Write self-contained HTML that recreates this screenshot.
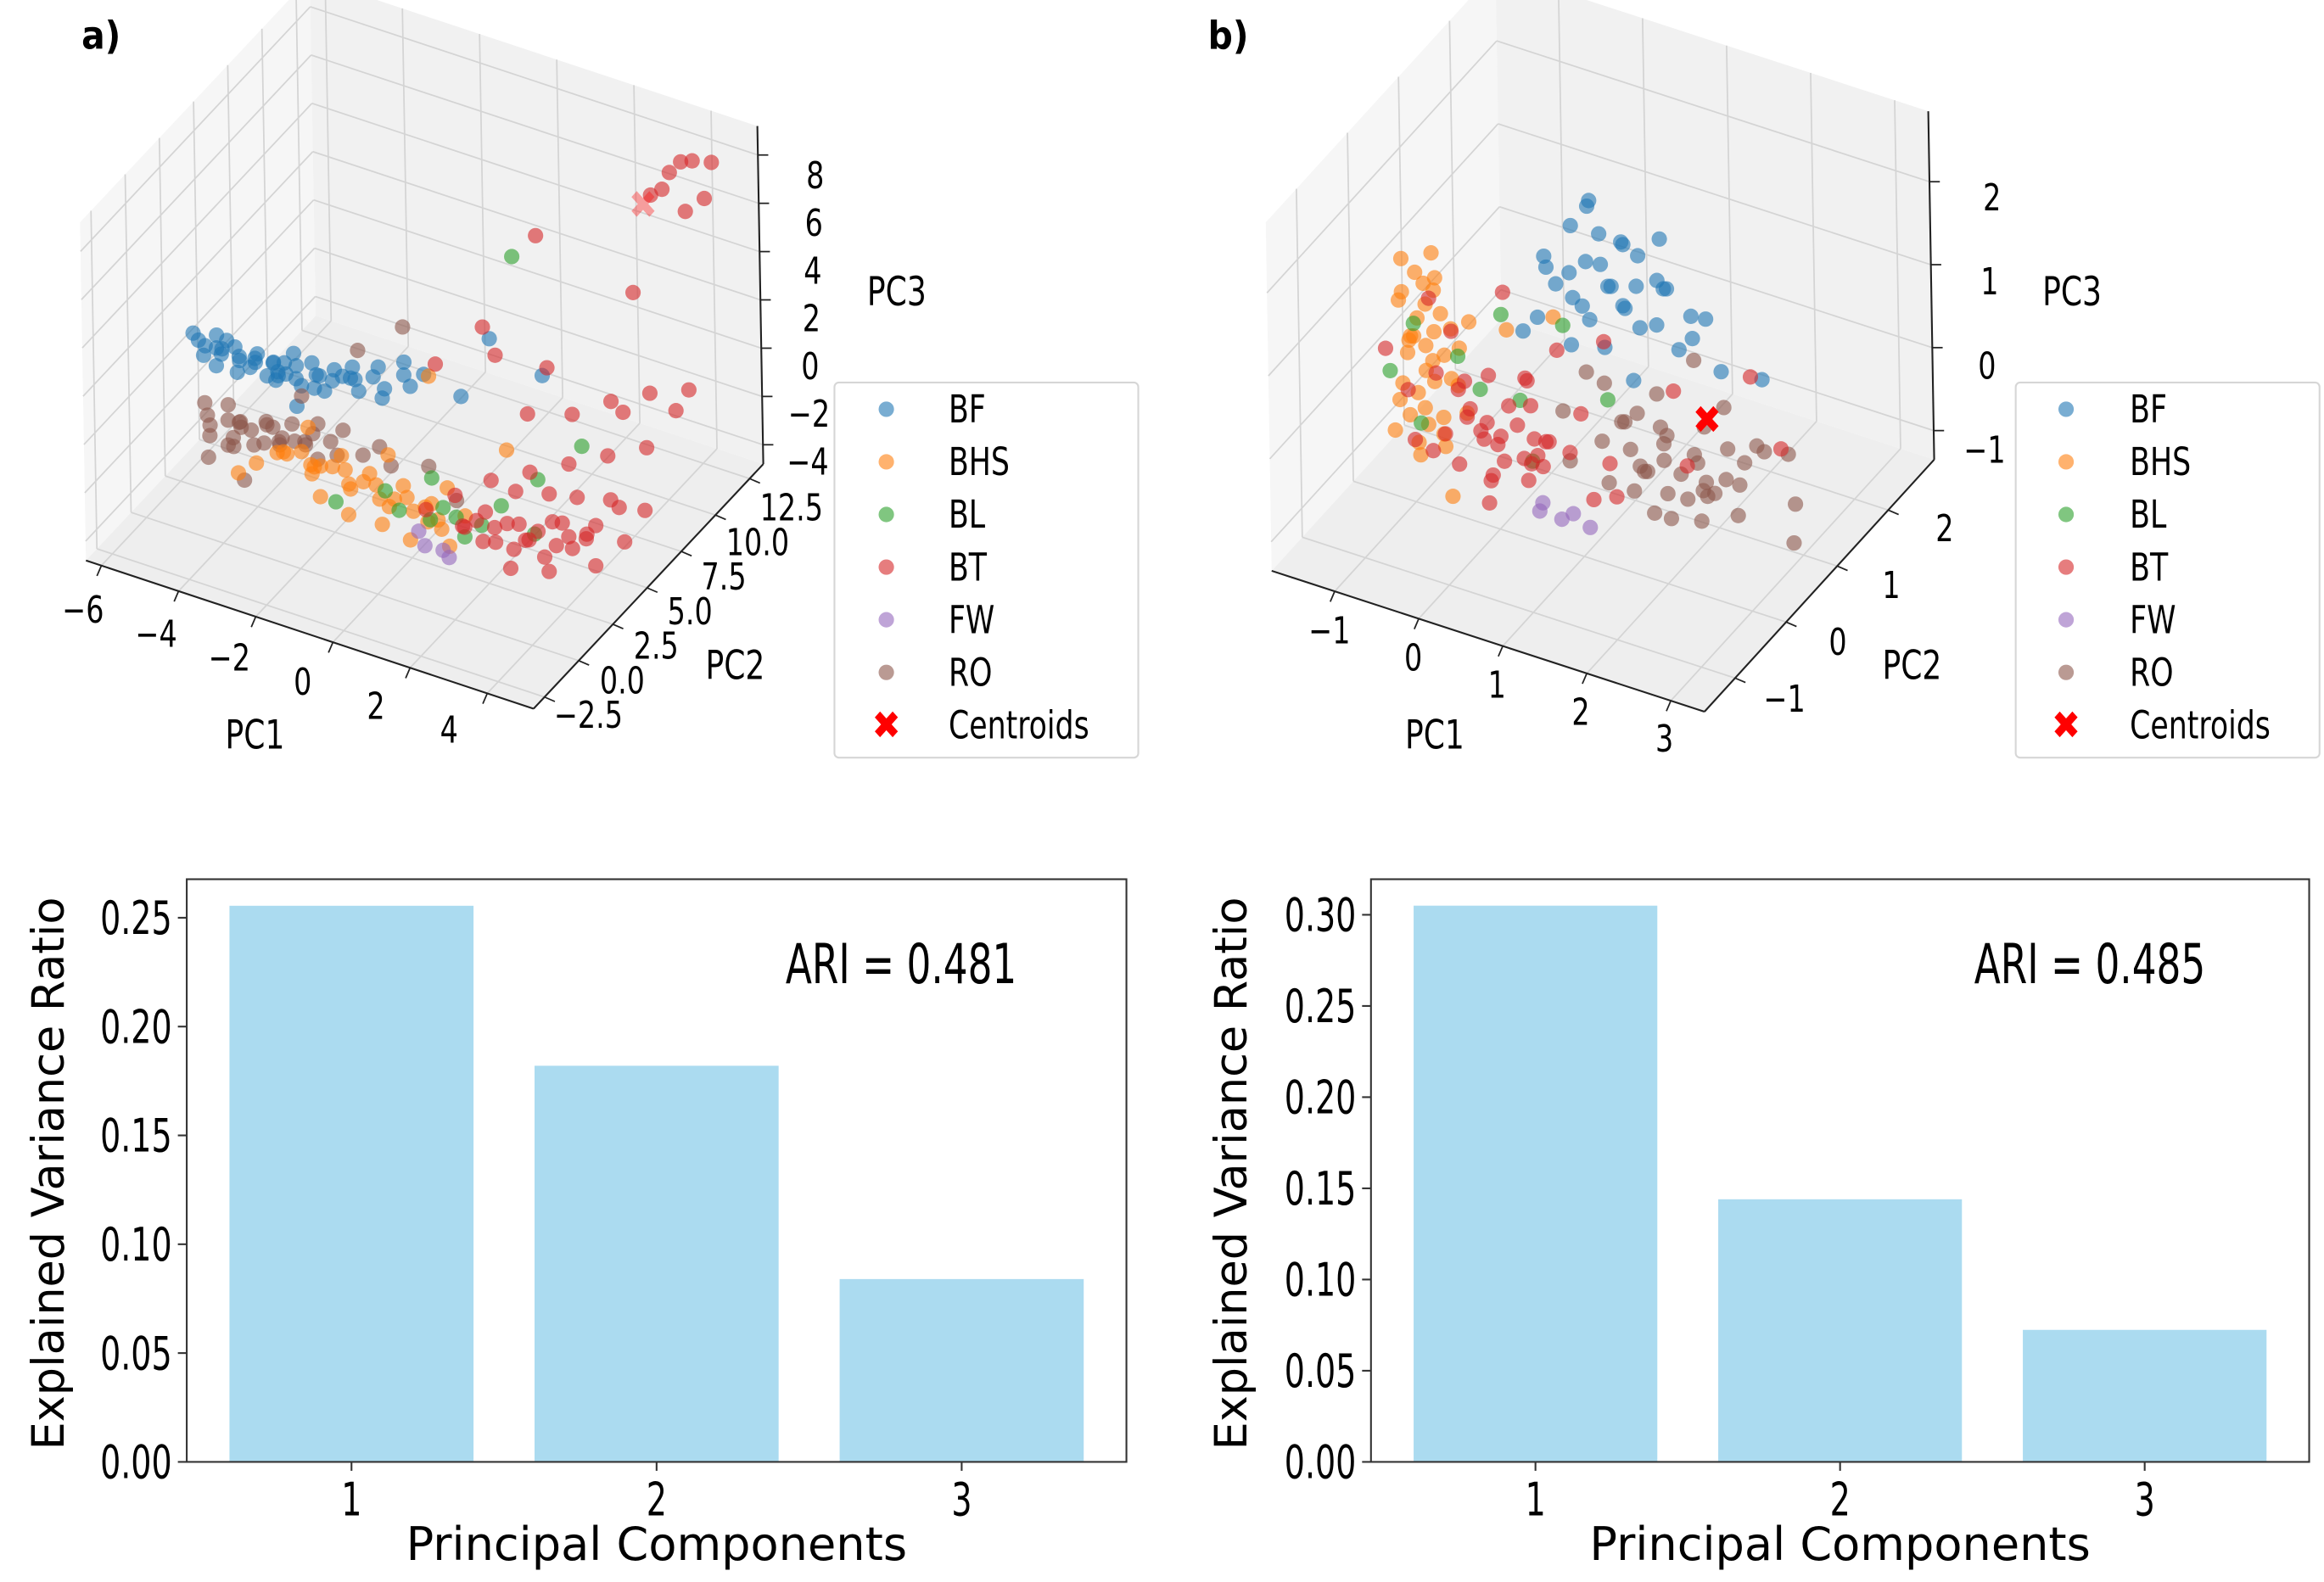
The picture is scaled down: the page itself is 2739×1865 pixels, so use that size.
<!DOCTYPE html>
<html><head><meta charset="utf-8"><style>
html,body{margin:0;padding:0;background:#fff;}
svg{display:block;}
text{font-family:"DejaVu Sans Condensed","DejaVu Sans","Liberation Sans",sans-serif;fill:#000;}
</style></head><body>
<svg id="fig" width="2739" height="1865" viewBox="0 0 1568 1067" preserveAspectRatio="none" xmlns="http://www.w3.org/2000/svg">
<rect x="0" y="0" width="1568" height="1067" fill="#fff"/>
<text x="55" y="33" font-size="26" font-weight="bold">a)</text>
<text x="815" y="33" font-size="26" font-weight="bold">b)</text>
</svg>
<script>
// ---------- Data ----------
const classNames = ["BF","BHS","BL","BT","FW","RO"];
const classColors = ["#1f77b4","#ff7f0e","#2ca02c","#d62728","#9467bd","#8c564b"];
const pcCategories = [1,2,3];
const varianceA = [0.2555,0.182,0.084];
const varianceB = [0.305,0.144,0.0724];
const yTicksA = [0,0.05,0.10,0.15,0.20,0.25];
const yTicksB = [0,0.05,0.10,0.15,0.20,0.25,0.30];
const ariA = "ARI = 0.481";
const ariB = "ARI = 0.485";

// Panel a 3D scatter [PC1,PC2,PC3]
const aBF = [[-5.8,3.4,0.6],[-5.6,3.2,0.2],[-5.4,3.6,0.9],[-5.2,3.0,0.1],[-5.0,3.8,0.5],[-4.8,3.4,-0.2],[-4.6,3.0,0.8],[-4.4,3.6,0.3],[-4.2,3.2,1.0],[-4.0,3.8,0.4],[-3.8,3.4,0.0],[-3.6,3.0,0.7],[-3.4,3.6,1.2],[-3.2,3.2,0.5],[-3.0,3.8,0.9],[-2.8,3.4,0.2],[-2.6,3.0,1.1],[-2.4,3.6,0.6],[-2.2,3.2,1.4],[-2.0,3.8,0.8],[-1.8,3.4,1.6],[-1.5,3.0,1.0],[-1.2,3.6,1.8],[-0.9,3.2,1.3],[-0.6,3.8,2.2],[-0.3,3.4,1.6],[0.2,3.0,2.6],[-5.5,4.2,-0.3],[-4.9,2.6,1.2],[-3.9,4.4,-0.4],[-2.9,2.4,0.0],[0.8,4.0,1.4],[1.2,5.0,3.4],[2.2,6.0,1.8],
 [-5.7,3.6,0.3],[-5.3,3.3,0.6],[-5.1,3.5,0.9],[-4.7,3.3,0.4],[-4.5,3.5,0.1],[-4.3,3.3,0.7],[-3.9,3.5,0.6],[-3.7,3.3,0.3],[-3.3,3.5,0.8],[-3.1,3.3,0.2],[-2.7,3.5,0.7],[-2.5,3.3,0.3],[-2.1,3.5,1.0],[-1.7,3.3,1.2],[-1.3,3.5,1.4],[-1.0,3.3,0.8],[-0.5,3.5,1.9],[-5.9,3.3,0.9],[-4.1,3.6,-0.1],[-3.5,3.2,1.0]];
const aRO = [[-5.6,3.4,-2.4],[-5.4,3.0,-2.9],[-5.2,3.8,-2.0],[-5.0,3.2,-3.2],[-4.8,3.6,-2.6],[-4.6,3.0,-1.9],[-4.4,3.4,-3.0],[-4.2,3.8,-2.3],[-4.0,3.2,-1.7],[-3.8,3.6,-2.8],[-3.6,3.0,-2.2],[-3.4,3.4,-1.6],[-3.2,3.8,-2.6],[-3.0,3.2,-2.0],[-2.8,3.6,-1.4],[-2.6,3.0,-2.4],[-2.4,3.4,-1.8],[-5.3,2.6,-3.5],[-4.3,2.4,-3.8],[-3.5,4.4,-1.1],[-2.0,3.2,-1.0],[-1.2,3.6,-1.5],[0.0,3.8,-1.8],[-1.6,6.5,1.5],[-2.6,6.0,0.3],[1.0,3.0,-2.2],
 [-5.5,3.3,-2.7],[-5.1,3.5,-2.4],[-4.9,3.3,-2.9],[-4.5,3.5,-2.5],[-4.1,3.3,-2.7],[-3.7,3.5,-2.4],[-3.3,3.3,-2.2],[-2.9,3.5,-1.8],[-5.7,3.5,-2.0],[-4.7,3.2,-2.1],[-3.9,3.4,-2.0],[-5.0,3.6,-3.5],[-2.2,3.3,-2.2],[-1.6,3.5,-2.0],[-0.8,3.3,-1.9]];
const aBHS = [[-4.2,3.0,-3.4],[-3.8,3.4,-3.0],[-3.4,3.0,-2.6],[-3.0,3.6,-3.2],[-2.6,3.2,-2.8],[-2.2,3.6,-2.4],[-1.8,3.0,-3.0],[-1.4,3.4,-2.6],[-1.0,3.0,-3.2],[-0.6,3.6,-2.8],[-0.2,3.2,-3.4],[0.2,3.4,-3.0],[0.6,3.0,-3.6],[1.0,3.6,-3.2],[-2.4,2.6,-3.6],[-1.6,2.4,-3.8],[-0.8,2.6,-3.9],[0.0,2.4,-4.0],[-3.2,4.0,-2.0],[-1.2,4.2,-2.2],[0.4,4.0,-2.6],[-4.6,2.8,-3.9],[1.6,5.0,-1.0],[-0.4,5.0,1.0],[0.8,3.0,-4.2],
 [-3.6,3.3,-2.8],[-3.2,3.5,-2.7],[-2.8,3.3,-3.0],[-2.4,3.5,-2.9],[-2.0,3.3,-2.7],[-1.6,3.5,-3.1],[-1.2,3.3,-2.9],[-0.8,3.5,-3.4],[-0.4,3.3,-3.0],[0.0,3.5,-3.3],[0.4,3.3,-3.5],[-1.9,3.4,-3.5],[-0.9,3.4,-3.7],[0.1,3.4,-3.8],[-2.9,3.4,-3.4]];
const aBL = [[-0.5,3.0,-3.4],[0.5,3.4,-3.0],[1.2,3.0,-3.6],[1.8,4.0,-2.6],[2.4,5.0,-1.8],[0.0,4.0,-2.4],[2.8,3.6,-3.0],[1.17,6.8,5.7],[-2.0,2.6,-3.6],[3.2,6.0,-0.6],[0.2,3.3,-3.6],[0.8,3.5,-3.3],[1.5,3.4,-3.2],[-1.0,3.4,-3.1]];
const aBT = [[1.2,3.0,-3.2],[1.6,3.4,-2.6],[2.0,3.0,-3.4],[2.4,3.6,-2.8],[2.8,3.2,-3.0],[3.2,3.8,-2.4],[3.6,3.4,-2.0],[4.0,3.0,-2.6],[4.4,3.6,-1.8],[4.8,4.2,-1.2],[1.4,4.4,-2.0],[2.2,5.0,-1.6],[3.0,5.6,-1.2],[3.8,6.2,-0.8],[4.6,6.8,-0.4],[2.6,7.0,-0.2],[3.4,7.6,0.4],[4.2,8.2,0.8],[5.0,8.8,1.0],[1.8,6.0,0.0],[0.6,4.0,-2.8],[0.2,3.0,-3.0],[2.6,2.4,-3.8],[3.6,2.4,-3.4],[4.6,3.0,-3.0],[5.0,5.5,-2.0],[4.4,9.5,-0.6],[3.2,9.0,-1.0],[0.8,6.5,1.6],[0.3,7.0,2.2],[-0.4,5.5,1.2],[1.6,8.0,0.6],[3.3,11.8,6.6],[4.6,11.8,8.4],[3.8,11.8,8.0],[4.1,11.8,8.2],[3.5,11.8,7.4],[4.4,11.8,6.8],[3.0,11.8,6.2],[2.5,11.8,1.9],[1.8,6.8,6.9],[3.9,11.8,6.0],
 [1.4,3.3,-3.0],[1.8,3.5,-3.2],[2.2,3.3,-2.7],[2.6,3.5,-3.3],[3.0,3.3,-2.6],[3.4,3.5,-3.1],[3.8,3.3,-2.4],[4.2,3.5,-2.2],[2.0,4.5,-2.2],[2.8,4.7,-2.0],[3.6,4.5,-1.6],[4.4,4.7,-1.4],[1.0,3.4,-3.5],[1.6,3.2,-3.7],[2.4,3.2,-3.6],[3.2,3.2,-3.5],[4.0,4.0,-2.8],[5.0,4.0,-2.4]];
const aFW = [[0.3,2.6,-4.2],[0.7,2.8,-4.3],[1.0,2.4,-4.2],[0.0,3.0,-4.0]];
const aCentroids = [[2.8,11.8,5.7]];
const aCentroidAlpha = 0.35;
const aXTicks = [-6,-4,-2,0,2,4];
const aYTicks = [-2.5,0.0,2.5,5.0,7.5,10.0,12.5];
const aZTicks = [-4,-2,0,2,4,6,8];

// Panel b 3D scatter
const bBF = [[0.2,0.6,1.6],[0.4,0.8,1.9],[0.6,0.5,1.3],[0.8,0.7,2.0],[1.0,0.6,1.5],[1.2,0.8,1.8],[1.4,0.5,1.2],[1.6,0.7,1.6],[1.8,0.6,1.0],[2.0,0.8,1.3],[0.5,1.0,2.1],[0.9,1.0,1.7],[1.3,1.0,1.4],[0.3,0.3,1.1],[0.7,0.3,0.9],[1.1,0.3,1.0],[1.5,0.2,0.8],[0.6,0.8,2.2],[1.0,0.4,1.9],[1.7,1.0,1.1],[2.3,0.6,0.9],[0.1,0.8,1.3],[1.4,0.9,2.0],[0.9,0.2,1.5],[2.6,0.9,0.7],[0.0,0.5,0.7],
 [0.5,0.6,1.5],[0.7,0.6,1.7],[0.9,0.7,1.4],[1.1,0.7,1.2],[1.3,0.6,1.6],[0.8,0.5,1.1],[1.2,0.5,1.4],[1.6,0.5,1.3],[0.4,0.5,1.4],[1.0,0.8,1.9],[1.5,0.8,1.5],[1.9,0.7,1.1]];
const bBHS = [[-0.95,-0.3,1.8],[-0.75,-0.2,1.5],[-1.05,-0.2,1.2],[-0.85,-0.3,0.9],[-0.65,-0.2,0.6],[-0.95,-0.3,0.3],[-0.75,-0.2,0.0],[-1.05,-0.3,-0.3],[-0.55,-0.2,1.2],[-0.45,-0.3,0.8],[-0.35,-0.2,0.4],[-0.65,-0.3,-0.1],[-0.85,-0.2,1.6],[-0.55,-0.3,1.7],[-0.95,-0.2,0.6],[-0.75,-0.3,-0.5],[-0.25,-0.2,0.1],[-0.45,-0.3,-0.3],[-1.05,-0.2,0.0],[-0.15,-0.3,1.3],[0.05,0.1,1.0],[-0.25,-0.5,-0.7],[-0.75,-0.4,1.0],[-0.65,-0.2,1.9],[-0.95,-0.3,1.4],[0.3,0.6,0.9],
 [-0.8,-0.25,1.1],[-0.7,-0.25,0.8],[-0.6,-0.25,0.4],[-0.8,-0.25,0.2],[-0.5,-0.25,0.0],[-0.7,-0.25,1.3],[-0.6,-0.25,1.0],[-0.4,-0.25,0.5],[-0.9,-0.25,0.8],[-0.5,-0.25,-0.2],[-0.3,-0.25,0.9],[-0.7,-0.25,0.5],[-0.9,-0.25,-0.1],[-0.6,-0.25,1.5],[-0.4,-0.25,1.1],[-0.8,-0.25,-0.4]];
const bRO = [[0.4,0.6,-0.2],[0.8,0.7,-0.5],[1.2,0.5,0.0],[1.6,0.6,-0.4],[2.0,0.7,-0.7],[2.4,0.5,-0.3],[2.8,0.6,0.1],[3.1,0.7,-0.5],[0.6,0.4,-0.6],[1.0,0.5,-0.8],[1.4,0.8,0.2],[1.8,0.4,-0.9],[2.2,0.8,0.3],[2.6,0.4,-0.6],[1.1,0.9,-0.2],[1.5,0.3,-0.3],[1.9,0.9,-0.1],[2.3,0.3,-0.4],[0.9,0.6,0.3],[1.3,0.7,-0.7],[1.7,0.5,0.0],[2.1,0.6,-0.5],[2.5,0.7,-0.2],[2.9,0.9,-0.1],[3.2,0.5,-0.8],[0.5,0.9,0.1],[1.6,1.2,0.4],[2.4,1.1,-0.3],
 [1.2,0.6,-0.4],[1.4,0.6,-0.6],[1.6,0.6,-0.2],[1.8,0.6,-0.5],[2.0,0.6,-0.3],[2.2,0.6,-0.6],[1.3,0.5,-0.8],[1.7,0.5,-0.7],[2.1,0.5,-0.9],[1.5,0.7,-0.1],[1.9,0.7,-0.3],[2.3,0.7,-0.1],[1.1,0.6,-0.1],[2.5,0.6,-0.4],[1.6,0.4,-0.9],[2.0,0.4,-0.6]];
const bBT = [[-1.2,0.2,-0.2],[-0.8,0.1,0.2],[-0.4,0.3,-0.5],[0.0,0.2,0.0],[0.4,0.1,-0.4],[0.8,0.3,0.1],[1.2,0.2,-0.3],[-1.0,0.0,-0.6],[-0.6,0.2,-0.9],[-0.2,0.1,-0.2],[0.2,0.3,-0.7],[0.6,0.0,-0.1],[1.0,0.2,-0.8],[-0.8,0.4,0.5],[-0.4,0.0,0.3],[0.2,0.2,0.4],[0.6,0.4,-0.5],[-1.4,0.1,0.3],[0.0,-0.2,-0.9],[0.4,0.5,0.6],[1.6,0.8,0.3],[2.4,1.0,0.6],[3.0,0.6,0.2],[2.0,0.4,-0.2],[-0.3,0.6,1.0],[0.1,0.4,-1.0],[-1.0,0.3,0.9],[1.4,0.0,-0.5],[-0.6,-0.3,-0.4],[0.9,0.6,0.8],
 [-0.5,0.2,-0.3],[-0.3,0.2,-0.5],[-0.1,0.2,-0.4],[0.1,0.2,-0.2],[0.3,0.2,-0.3],[-0.4,0.1,-0.1],[-0.2,0.3,-0.6],[0.0,0.1,-0.6],[0.2,0.3,0.0],[-0.6,0.2,0.0],[0.4,0.2,-0.6],[-0.1,0.0,-0.8],[0.1,0.4,0.2],[-0.3,0.3,0.2],[0.5,0.1,-0.2],[-0.7,0.1,-0.5],[-0.2,0.2,-0.9],[0.3,0.0,-0.4]];
const bBL = [[-1.0,0.0,0.8],[-0.6,0.2,0.4],[-0.2,0.4,0.9],[0.2,0.1,0.2],[0.6,0.3,1.1],[-0.8,-0.2,-0.2],[0.4,0.0,-0.4],[-0.4,0.3,0.0],[1.0,0.5,0.2],[-1.1,-0.3,0.4]];
const bFW = [[0.6,-0.2,-0.8],[0.8,-0.1,-0.9],[1.0,-0.2,-0.7],[0.7,-0.3,-0.6],[1.2,-0.2,-0.8]];
const bCentroids = [[2.09,0.65,0.22]];
const bCentroidAlpha = 1.0;
const bXTicks = [-1,0,1,2,3];
const bYTicks = [-1,0,1,2];
const bZTicks = [-1,0,1,2];

// ---------- Helpers ----------
const NS = "http://www.w3.org/2000/svg";
const svg = document.getElementById("fig");
function mk(tag, attrs, parent){
  const e = document.createElementNS(NS, tag);
  for (const k in attrs) e.setAttribute(k, attrs[k]);
  (parent||svg).appendChild(e);
  return e;
}
function txt(parent, x, y, str, size, sx, anchor){
  const t = mk("text", {x:0, y:0, "font-size":size, "text-anchor":anchor||"middle", transform:`translate(${x},${y}) scale(${sx},1)`}, parent);
  t.textContent = str;
  return t;
}
function fmt(v, d){ const s = v.toFixed(d); return s.startsWith("-") ? "\u2212"+s.slice(1) : s; }

// ---------- 3D panel ----------
function panel3D(cfg){
  const g = mk("g", {});
  
  
  const P = (x,y,z) => {
    const nx=(x-cfg.xr[0])/(cfg.xr[1]-cfg.xr[0]);
    const ny=(y-cfg.yr[0])/(cfg.yr[1]-cfg.yr[0]);
    const nz=(z-cfg.zr[0])/(cfg.zr[1]-cfg.zr[0]);
    return [cfg.O[0]+nx*cfg.ex[0]+ny*cfg.ey[0]+nz*cfg.ez[0], cfg.O[1]+nx*cfg.ex[1]+ny*cfg.ey[1]+nz*cfg.ez[1]];
  };
  const [x0,x1]=cfg.xr,[y0,y1]=cfg.yr,[z0,z1]=cfg.zr;
  const poly=(pts,fill,nm)=>{
    const p = mk("polygon",{points:pts.map(q=>q.join(",")).join(" "),fill:fill,stroke:"none"},g);
    
    
  };
  poly([P(x0,y0,z0),P(x0,y1,z0),P(x0,y1,z1),P(x0,y0,z1)],"#f6f6f6","left-pane");
  poly([P(x0,y1,z0),P(x1,y1,z0),P(x1,y1,z1),P(x0,y1,z1)],"#f1f1f1","back-pane");
  poly([P(x0,y0,z0),P(x1,y0,z0),P(x1,y1,z0),P(x0,y1,z0)],"#eeeeee","floor-pane");
  const line=(a,b,col,w,nm)=>{
    const l = mk("line",{x1:a[0],y1:a[1],x2:b[0],y2:b[1],stroke:col,"stroke-width":w},g);
    
    
  };
  const gc="#d4d4d4";
  cfg.xt.forEach(v=>{ line(P(v,y0,z0),P(v,y1,z0),gc,1,"grid-x"); line(P(v,y1,z0),P(v,y1,z1),gc,1,"grid-x"); });
  cfg.yt.forEach(v=>{ line(P(x0,v,z0),P(x1,v,z0),gc,1,"grid-y"); line(P(x0,v,z0),P(x0,v,z1),gc,1,"grid-y"); });
  cfg.zt.forEach(v=>{ line(P(x0,y0,v),P(x0,y1,v),gc,1,"grid-z"); line(P(x0,y1,v),P(x1,y1,v),gc,1,"grid-z"); });
  line(P(x0,y0,z0),P(x1,y0,z0),"#222",1.2,"pc1-axis-line");
  line(P(x1,y0,z0),P(x1,y1,z0),"#222",1.2,"pc2-axis-line");
  line(P(x1,y1,z0),P(x1,y1,z1),"#222",1.2,"pc3-axis-line");
  cfg.xt.forEach((v,i)=>{
    const p=P(v,y0,z0); line(p,[p[0]-3,p[1]+7],"#222",1,"pc1-tick");
    const f=i/(cfg.xt.length-1);
    const t=txt(g, cfg.xl[0][0]+f*(cfg.xl[1][0]-cfg.xl[0][0]), cfg.xl[0][1]+f*(cfg.xl[1][1]-cfg.xl[0][1])+9, fmt(v,cfg.xd), 25, 0.85);
    
    
  });
  cfg.yt.forEach((v,i)=>{
    const p=P(x1,v,z0); line(p,[p[0]+7,p[1]+3],"#222",1,"pc2-tick");
    const f=i/(cfg.yt.length-1);
    const t=txt(g, cfg.yl[0][0]+f*(cfg.yl[1][0]-cfg.yl[0][0]), cfg.yl[0][1]+f*(cfg.yl[1][1]-cfg.yl[0][1])+9, fmt(v,cfg.yd), 25, 0.85);
    
    
  });
  cfg.zt.forEach((v,i)=>{
    const p=P(x1,y1,v); line(p,[p[0]+7,p[1]],"#222",1,"pc3-tick");
    const f=i/(cfg.zt.length-1);
    const t=txt(g, cfg.zl[0][0]+f*(cfg.zl[1][0]-cfg.zl[0][0]), cfg.zl[0][1]+f*(cfg.zl[1][1]-cfg.zl[0][1])+9, fmt(v,0), 25, 0.85);
    
    
  });
  [["PC1",cfg.lab[0],"pc1-axis-title"],["PC2",cfg.lab[1],"pc2-axis-title"],["PC3",cfg.lab[2],"pc3-axis-title"]].forEach(a=>{
    const t=txt(g, a[1][0], a[1][1]+10, a[0], 27, 0.85);
    
    
  });
  cfg.series.forEach(s=>{
    const sg = mk("g",{},g);
    
    
    s.data.forEach(d=>{
      const p=P(d[0],d[1],d[2]);
      const c=mk("circle",{cx:p[0],cy:p[1],r:5.2,fill:s.color,"fill-opacity":0.6},sg);
      
      
    });
  });
  cfg.centroids.forEach(d=>{
    const p=P(d[0],d[1],d[2]);
    const c=mk("text",{x:p[0],y:p[1]+9,"font-size":26,"font-weight":"bold","text-anchor":"middle","fill-opacity":cfg.calpha},g);
    c.textContent="\u2716";
    c.style.fill="#ff0000";
    
    
  });
  const L=cfg.legend;
  const lg=mk("g",{},g);
  
  
  const box=mk("rect",{x:L.x,y:L.y,width:L.w,height:L.h,rx:3,fill:"#fff","fill-opacity":0.85,stroke:"#d6d6d6","stroke-width":1.2},lg);
  
  
  const labels=classNames.concat(["Centroids"]);
  labels.forEach((lbl,i)=>{
    const y=L.y+18+i*35.5;
    if(i<6){
      const c=mk("circle",{cx:L.mx,cy:y,r:5.2,fill:classColors[i],"fill-opacity":0.6},lg);
      
      
    } else {
      const c=mk("text",{x:L.mx,y:y+9,"font-size":26,"text-anchor":"middle"},lg);
      c.textContent="\u2716"; c.style.fill="#ff0000";
      
      
    }
    const t=txt(lg, L.tx, y+9, lbl, 26, 0.85, "start");
    
    
  });
}

panel3D({
  name:"pca-3d-scatter-a",
  O:[58,378], ex:[302,100], ey:[155,-165], ez:[-4,-228],
  xr:[-6.4,5.2], yr:[-3.3,13.5], zr:[-4.8,9.2],
  xt:aXTicks, yt:aYTicks, zt:aZTicks, xd:0, yd:1,
  xl:[[56,411],[303,492]], yl:[[397,482],[534,342]], zl:[[545,311],[550,118]],
  lab:[[172,495],[496,448],[605,196]],
  series:[{label:"BF",color:classColors[0],data:aBF},{label:"RO",color:classColors[5],data:aRO},{label:"BHS",color:classColors[1],data:aBHS},{label:"BL",color:classColors[2],data:aBL},{label:"BT",color:classColors[3],data:aBT},{label:"FW",color:classColors[4],data:aFW}],
  centroids:aCentroids, calpha:aCentroidAlpha,
  legend:{x:563,y:258,w:205,h:253,mx:598,tx:640}
});
panel3D({
  name:"pca-3d-scatter-b",
  O:[858,385], ex:[292,95], ey:[155,-170], ez:[-4,-235],
  xr:[-1.75,3.4], yr:[-1.6,2.9], zr:[-1.35,2.85],
  xt:bXTicks, yt:bYTicks, zt:bZTicks, xd:0, yd:0,
  xl:[[897,425],[1123,498]], yl:[[1204,471],[1312,356]], zl:[[1339,303],[1344,133]],
  lab:[[968,495],[1290,448],[1398,196]],
  series:[{label:"BF",color:classColors[0],data:bBF},{label:"BHS",color:classColors[1],data:bBHS},{label:"RO",color:classColors[5],data:bRO},{label:"BL",color:classColors[2],data:bBL},{label:"BT",color:classColors[3],data:bBT},{label:"FW",color:classColors[4],data:bFW}],
  centroids:bCentroids, calpha:bCentroidAlpha,
  legend:{x:1360,y:258,w:205,h:253,mx:1394,tx:1437}
});

// ---------- Bar charts ----------
function barChart(cfg){
  const g=mk("g",{});
  
  
  const {L,R,T,B,ymax}=cfg;
  const xmin=0.46, xmax=3.54;
  const X=v=>L+(v-xmin)/(xmax-xmin)*(R-L);
  const Y=v=>B-v/ymax*(B-T);
  cfg.values.forEach((v,i)=>{
    const c=pcCategories[i];
    const r=mk("rect",{x:X(c-0.4),y:Y(v),width:X(c+0.4)-X(c-0.4),height:B-Y(v),fill:"#abdbf0"},g);
    
    
  });
  const fr=mk("rect",{x:L,y:T,width:R-L,height:B-T,fill:"none",stroke:"#333","stroke-width":1.2},g);
  
  
  cfg.ticks.forEach(v=>{
    const l=mk("line",{x1:L-6,x2:L,y1:Y(v),y2:Y(v),stroke:"#333","stroke-width":1.2},g);
    
    
    const t=txt(g, L-10, Y(v)+11, v.toFixed(2), 31, 0.78, "end");
    
    
  });
  pcCategories.forEach(c=>{
    const l=mk("line",{x1:X(c),x2:X(c),y1:B,y2:B+6,stroke:"#333","stroke-width":1.2},g);
    
    
    const t=txt(g, X(c), B+36, String(c), 31, 0.78);
    
    
  });
  const xl=mk("text",{x:(L+R)/2,y:B+66,"font-size":31,"text-anchor":"middle",style:'font-family:"DejaVu Sans","Liberation Sans",sans-serif'},g);
  xl.textContent="Principal Components";
  
  
  const cy=(T+B)/2+2;
  const yl=mk("text",{x:cfg.ylx,y:cy,"font-size":30,"text-anchor":"middle",transform:`rotate(-90 ${cfg.ylx} ${cy})`,style:'font-family:"DejaVu Sans","Liberation Sans",sans-serif'},g);
  yl.textContent="Explained Variance Ratio";
  
  
  const a=txt(g, cfg.ari[0], cfg.ari[1]+13, cfg.ariText, 37, 0.78);
  
  
}
barChart({name:"variance-bar-chart-a",L:126,R:760,T:593,B:986,ymax:0.2677,values:varianceA,ticks:yTicksA,ylx:43,ari:[608,650],ariText:ariA});
barChart({name:"variance-bar-chart-b",L:925,R:1558,T:593,B:986,ymax:0.3195,values:varianceB,ticks:yTicksB,ylx:841,ari:[1410,650],ariText:ariB});
</script>
</body></html>
